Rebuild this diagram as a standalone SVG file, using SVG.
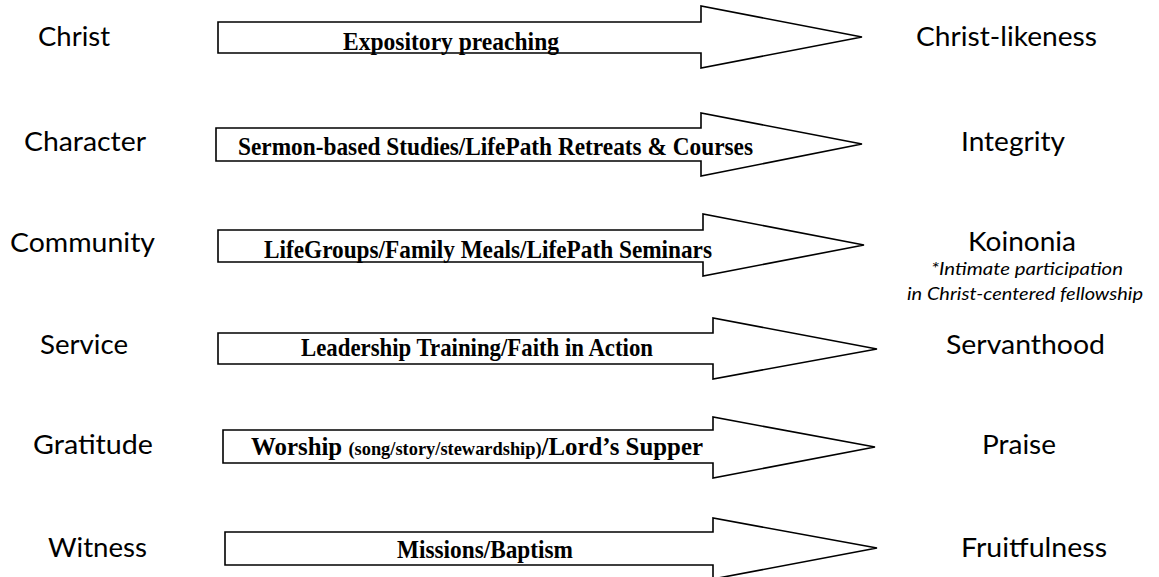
<svg xmlns="http://www.w3.org/2000/svg" width="1159" height="577" viewBox="0 0 1159 577">
<style>
.bg{fill:#ffffff}
.arrow{fill:#ffffff;stroke:#000000;stroke-width:1.6;stroke-linejoin:miter}
.at{font-family:"Liberation Serif","Times New Roman",serif;font-weight:bold;font-size:25px;fill:#000000}
.small{font-size:18.5px}
.lbl{font-family:Lato,"Open Sans","Liberation Sans",sans-serif;font-size:26.5px;fill:#000000}
.note{font-family:Lato,"Open Sans","Liberation Sans",sans-serif;font-style:italic;font-size:18px;fill:#000000}
</style>
<rect class="bg" x="0" y="0" width="1159" height="577"/>

<g id="left-labels">
  <g id="lbl-christ"><text class="lbl" x="38" y="46" textLength="72" lengthAdjust="spacingAndGlyphs">Christ</text></g>
  <g id="lbl-character"><text class="lbl" x="24" y="151" textLength="122" lengthAdjust="spacingAndGlyphs">Character</text></g>
  <g id="lbl-community"><text class="lbl" x="10" y="252" textLength="145" lengthAdjust="spacingAndGlyphs">Community</text></g>
  <g id="lbl-service"><text class="lbl" x="40" y="354" textLength="88" lengthAdjust="spacingAndGlyphs">Service</text></g>
  <g id="lbl-gratitude"><text class="lbl" x="33" y="454" textLength="120" lengthAdjust="spacingAndGlyphs">Gratitude</text></g>
  <g id="lbl-witness"><text class="lbl" x="48" y="557" textLength="99" lengthAdjust="spacingAndGlyphs">Witness</text></g>
</g>

<g id="connectors">
  <g id="arrow-1">
    <polygon class="arrow" points="218,22 701,22 701,6 862,37 701,68 701,53 218,53"/>
    <text class="at" x="343" y="50" textLength="216" lengthAdjust="spacingAndGlyphs">Expository preaching</text>
  </g>
  <g id="arrow-2">
    <polygon class="arrow" points="216,128 701,128 701,113 862,144 701,176 701,161 216,161"/>
    <text class="at" x="238" y="155" textLength="515" lengthAdjust="spacingAndGlyphs">Sermon-based Studies/LifePath Retreats &amp; Courses</text>
  </g>
  <g id="arrow-3">
    <polygon class="arrow" points="218,230 703,230 703,214 864,245 703,276 703,262 218,262"/>
    <text class="at" x="264" y="258" textLength="448" lengthAdjust="spacingAndGlyphs">LifeGroups/Family Meals/LifePath Seminars</text>
  </g>
  <g id="arrow-4">
    <polygon class="arrow" points="218,333 713,333 713,318 877,349 713,379 713,364 218,364"/>
    <text class="at" x="301" y="356" textLength="352" lengthAdjust="spacingAndGlyphs">Leadership Training/Faith in Action</text>
  </g>
  <g id="arrow-5">
    <polygon class="arrow" points="223,430 713,430 713,417 875,447 713,478 713,463 223,463"/>
    <text class="at" x="251" y="455" textLength="452" lengthAdjust="spacingAndGlyphs">Worship <tspan class="small">(song/story/stewardship)</tspan>/Lord’s Supper</text>
  </g>
  <g id="arrow-6">
    <polygon class="arrow" points="225,532 713,532 713,518 877,548 713,579 713,565 225,565"/>
    <text class="at" x="397" y="558" textLength="176" lengthAdjust="spacingAndGlyphs">Missions/Baptism</text>
  </g>
</g>

<g id="right-labels">
  <g id="lbl-christlikeness"><text class="lbl" x="916" y="46" textLength="181" lengthAdjust="spacingAndGlyphs">Christ-likeness</text></g>
  <g id="lbl-integrity"><text class="lbl" x="961" y="151" textLength="104" lengthAdjust="spacingAndGlyphs">Integrity</text></g>
  <g id="lbl-koinonia">
    <text class="lbl" x="968" y="251" textLength="108" lengthAdjust="spacingAndGlyphs">Koinonia</text>
    <text class="note" x="931" y="275" textLength="192" lengthAdjust="spacingAndGlyphs">*Intimate participation</text>
    <text class="note" x="907" y="300" textLength="236" lengthAdjust="spacingAndGlyphs">in Christ-centered fellowship</text>
  </g>
  <g id="lbl-servanthood"><text class="lbl" x="946" y="354" textLength="159" lengthAdjust="spacingAndGlyphs">Servanthood</text></g>
  <g id="lbl-praise"><text class="lbl" x="982" y="454" textLength="74" lengthAdjust="spacingAndGlyphs">Praise</text></g>
  <g id="lbl-fruitfulness"><text class="lbl" x="961" y="557" textLength="146" lengthAdjust="spacingAndGlyphs">Fruitfulness</text></g>
</g>
</svg>
